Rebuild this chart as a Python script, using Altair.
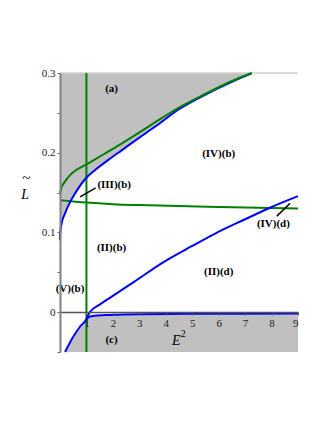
import altair as alt
import pandas as pd

# ---- data ----
blue_up_x = [0, 0.01, 0.06, 0.19, 0.38, 0.57, 0.98, 1.32, 1.83, 2.33, 2.96, 3.59, 4.5, 5.3, 6.5, 7.25]
blue_up_y = [0.09, 0.100, 0.111, 0.124, 0.138, 0.149, 0.168, 0.178, 0.191, 0.203, 0.218, 0.2325, 0.2545, 0.2695, 0.289, 0.2995]

green_up_x = [0, 0.05, 0.13, 0.44, 0.98, 1.7, 2.33, 2.96, 3.59, 4.5, 5.3, 6.5, 7.25]
green_up_y = [0.148, 0.156, 0.161, 0.174, 0.185, 0.199, 0.2115, 0.2245, 0.238, 0.2565, 0.2705, 0.290, 0.3]

green_h_x = [0, 1, 2, 3, 4.5, 6, 9]
green_h_y = [0.1405, 0.1375, 0.1355, 0.1343, 0.133, 0.132, 0.130]

blue_low_x = [0.19, 0.5, 0.76, 0.98, 1.13, 1.5, 2.0, 2.8, 3.9, 5.0, 5.92, 7.0, 7.94, 9.0]
blue_low_y = [-0.05, -0.031, -0.018, -0.01, 0.0, 0.0095, 0.0205, 0.038, 0.0625, 0.083, 0.0995, 0.1165, 0.131, 0.1455]

blue_flat_x = [0.98, 1.1, 1.3, 1.9, 3, 5, 9]
blue_flat_y = [-0.01, -0.006, -0.0045, -0.0035, -0.0025, -0.002, -0.0018]

c_bound_x = [0.19, 0.5, 0.76, 0.98, 1.1, 1.3, 1.9, 3, 5, 9]
c_bound_y = [-0.05, -0.031, -0.018, -0.01, -0.006, -0.0045, -0.0035, -0.0025, -0.002, -0.0018]

labels = ["(a)", "(IV)(b)", "(III)(b)", "(II)(b)", "(V)(b)", "(II)(d)", "(IV)(d)", "(c)"]
label_x = [1.95, 6.0, 2.05, 1.95, 0.38, 6.0, 8.07, 1.95]
label_y = [0.28, 0.199, 0.159, 0.080, 0.029, 0.05, 0.11, -0.035]

leader_x = [0.76, 1.35, 8.2, 8.7]
leader_y = [0.1447, 0.156, 0.1205, 0.1365]
leader_id = ["III", "III", "IV", "IV"]

XMIN, XMAX = 0, 9
YMIN, YMAX = -0.05, 0.3
x_ticks = [1, 2, 3, 4, 5, 6, 7, 8, 9]
y_ticks = [-0.05, 0, 0.05, 0.1, 0.15, 0.2, 0.25, 0.3]

SERIF = "Liberation Serif"
BLUE = "#0000ff"
GREEN = "#008000"
GRAY = "#c0c0c0"

xs = alt.Scale(domain=[XMIN, XMAX], nice=False, zero=False)
ys = alt.Scale(domain=[YMIN, YMAX], nice=False, zero=False)

x_axis = alt.Axis(values=x_ticks, offset=-40, domainColor="#555555", domainWidth=1.5,
                  tickColor="#555555", tickSize=3, labelFont=SERIF, labelFontSize=11,
                  labelColor="#222222", labelPadding=2, grid=False, title=None, zindex=1)
y_axis = alt.Axis(values=y_ticks, domainColor="#808080", domainWidth=2,
                  tickColor="#666666", tickSize=3, labelFont=SERIF, labelFontSize=11,
                  labelColor="#222222", labelPadding=2, grid=False, title=None, zindex=1,
                  labelExpr="abs(round(datum.value*20)) % 2 == 0 && datum.value >= 0 ? (datum.value == 0 ? '0' : format(datum.value, '.1f')) : ''")

X = alt.X("x:Q", scale=xs, axis=x_axis)
Y = alt.Y("y:Q", scale=ys, axis=y_axis)

df_a = pd.DataFrame({"x": blue_up_x, "y": blue_up_y, "y2": [YMAX] * len(blue_up_x)})
df_c = pd.DataFrame({"x": c_bound_x, "y": [YMIN] * len(c_bound_x), "y2": c_bound_y})

area_a = alt.Chart(df_a).mark_area(color=GRAY, opacity=1).encode(x=X, y=Y, y2="y2:Q")
area_c = alt.Chart(df_c).mark_area(color=GRAY, opacity=1).encode(x=X, y=Y, y2="y2:Q")

top_line = alt.Chart(pd.DataFrame({"x": [XMIN], "x2": [XMAX], "y": [YMAX]})).mark_rule(
    color="#d0d0d0", strokeWidth=1.5).encode(x=X, x2="x2:Q", y=Y)

vline = alt.Chart(pd.DataFrame({"x": [1.0], "y": [YMIN], "y2": [YMAX]})).mark_rule(
    color=GREEN, strokeWidth=2).encode(x=X, y=Y, y2="y2:Q")

def curve(xv, yv, color):
    d = pd.DataFrame({"x": xv, "y": yv, "o": list(range(len(xv)))})
    return alt.Chart(d).mark_line(color=color, strokeWidth=2, interpolate="monotone").encode(
        x=X, y=Y, order="o:Q")

g_h = curve(green_h_x, green_h_y, GREEN)
b_up = curve(blue_up_x, blue_up_y, BLUE)
g_up = curve(green_up_x, green_up_y, GREEN)
b_low = curve(blue_low_x, blue_low_y, BLUE)
b_flat = curve(blue_flat_x, blue_flat_y, BLUE)

lead = alt.Chart(pd.DataFrame({"x": leader_x, "y": leader_y, "g": leader_id})).mark_line(
    color="black", strokeWidth=1.5).encode(x=X, y=Y, detail="g:N")

txt = alt.Chart(pd.DataFrame({"x": label_x, "y": label_y, "t": labels})).mark_text(
    font=SERIF, fontSize=11, fontWeight="bold", color="black").encode(x=X, y=Y, text="t:N")

# axis titles (as text marks at data positions)
e_title = alt.Chart(pd.DataFrame({"x": [4.4], "y": [-0.036], "t": ["E"]})).mark_text(
    font=SERIF, fontSize=14, fontStyle="italic", color="black").encode(x=X, y=Y, text="t:N")
e_sup = alt.Chart(pd.DataFrame({"x": [4.66], "y": [-0.027], "t": ["2"]})).mark_text(
    font=SERIF, fontSize=10, color="black").encode(x=X, y=Y, text="t:N")
l_title = alt.Chart(pd.DataFrame({"x": [-1.32], "y": [0.147], "t": ["L"]})).mark_text(
    font=SERIF, fontSize=14, fontStyle="italic", color="black").encode(x=X, y=Y, text="t:N")
l_tilde = alt.Chart(pd.DataFrame({"x": [-1.27], "y": [0.168], "t": ["~"]})).mark_text(
    font=SERIF, fontSize=15, color="black").encode(x=X, y=Y, text="t:N")

chart = alt.layer(
    area_a, area_c, top_line, vline, g_h, b_up, g_up, b_low, b_flat, lead, txt,
    e_title, e_sup, l_title, l_tilde
).properties(
    width=238, height=279,
    autosize=alt.AutoSizeParams(type="none"),
    padding={"left": 52, "top": 65, "right": 15, "bottom": 40},
).configure_view(stroke=None)

chart.save("out.html", embed_options={"renderer": "svg", "actions": False})
